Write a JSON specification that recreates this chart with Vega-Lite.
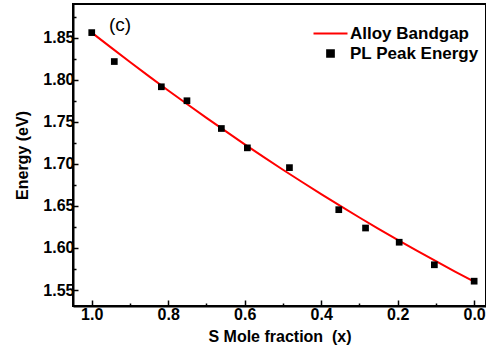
{
  "$schema": "https://vega.github.io/schema/vega-lite/v6.json",
  "width": 413,
  "height": 302,
  "autosize": {"type": "none"},
  "padding": {"left": 73, "top": 4, "right": 0, "bottom": 46},
  "background": "white",
  "config": {
    "font": "Liberation Sans",
    "view": {"stroke": "black", "strokeWidth": 2},
    "axis": {
      "grid": false,
      "domainColor": "black",
      "domainWidth": 2,
      "tickColor": "black",
      "tickWidth": 1.5,
      "labelFont": "Liberation Sans",
      "labelFontSize": 16,
      "labelFontWeight": "bold",
      "labelColor": "black",
      "titleFont": "Liberation Sans",
      "titleFontSize": 16,
      "titleFontWeight": "bold",
      "titleColor": "black"
    }
  },
  "datasets": {
    "band": [
      {"x": 0.0, "E": 1.5600, "series": "Alloy Bandgap"},
      {"x": 0.05, "E": 1.5720, "series": "Alloy Bandgap"},
      {"x": 0.1, "E": 1.5842, "series": "Alloy Bandgap"},
      {"x": 0.15, "E": 1.5968, "series": "Alloy Bandgap"},
      {"x": 0.2, "E": 1.6096, "series": "Alloy Bandgap"},
      {"x": 0.25, "E": 1.6228, "series": "Alloy Bandgap"},
      {"x": 0.3, "E": 1.6362, "series": "Alloy Bandgap"},
      {"x": 0.35, "E": 1.6500, "series": "Alloy Bandgap"},
      {"x": 0.4, "E": 1.6640, "series": "Alloy Bandgap"},
      {"x": 0.45, "E": 1.6784, "series": "Alloy Bandgap"},
      {"x": 0.5, "E": 1.6930, "series": "Alloy Bandgap"},
      {"x": 0.55, "E": 1.7080, "series": "Alloy Bandgap"},
      {"x": 0.6, "E": 1.7232, "series": "Alloy Bandgap"},
      {"x": 0.65, "E": 1.7388, "series": "Alloy Bandgap"},
      {"x": 0.7, "E": 1.7546, "series": "Alloy Bandgap"},
      {"x": 0.75, "E": 1.7708, "series": "Alloy Bandgap"},
      {"x": 0.8, "E": 1.7872, "series": "Alloy Bandgap"},
      {"x": 0.85, "E": 1.8040, "series": "Alloy Bandgap"},
      {"x": 0.9, "E": 1.8210, "series": "Alloy Bandgap"},
      {"x": 0.95, "E": 1.8384, "series": "Alloy Bandgap"},
      {"x": 1.0, "E": 1.8560, "series": "Alloy Bandgap"}
    ],
    "pl": [
      {"x": 1.0, "E": 1.856, "series": "PL Peak Energy"},
      {"x": 0.941, "E": 1.8216, "series": "PL Peak Energy"},
      {"x": 0.818, "E": 1.7916, "series": "PL Peak Energy"},
      {"x": 0.751, "E": 1.775, "series": "PL Peak Energy"},
      {"x": 0.661, "E": 1.742, "series": "PL Peak Energy"},
      {"x": 0.593, "E": 1.719, "series": "PL Peak Energy"},
      {"x": 0.483, "E": 1.6955, "series": "PL Peak Energy"},
      {"x": 0.354, "E": 1.6455, "series": "PL Peak Energy"},
      {"x": 0.284, "E": 1.6237, "series": "PL Peak Energy"},
      {"x": 0.196, "E": 1.6068, "series": "PL Peak Energy"},
      {"x": 0.104, "E": 1.580, "series": "PL Peak Energy"},
      {"x": 0.0, "E": 1.5605, "series": "PL Peak Energy"}
    ],
    "lab": [
      {"x": 0.926, "E": 1.865, "t": "(c)"}
    ]
  },
  "layer": [
    {
      "data": {"name": "band"},
      "mark": {"type": "line", "strokeWidth": 2},
      "encoding": {
        "x": {
          "field": "x", "type": "quantitative",
          "scale": {"domain": [1.049, -0.031], "nice": false, "zero": false},
          "axis": {"values": [0, 0.2, 0.4, 0.6, 0.8, 1.0], "format": ".1f", "tickSize": -6, "labelPadding": 6, "title": "S Mole fraction \u00a0(x)", "titlePadding": 6, "orient": "bottom"}
        },
        "y": {
          "field": "E", "type": "quantitative",
          "scale": {"domain": [1.531, 1.89], "nice": false, "zero": false},
          "axis": {"values": [1.55, 1.6, 1.65, 1.7, 1.75, 1.8, 1.85], "format": ".2f", "tickSize": -5, "labelPadding": 4, "title": "Energy (eV)", "titlePadding": 12, "orient": "left"}
        },
        "color": {
          "field": "series", "type": "nominal",
          "scale": {"domain": ["Alloy Bandgap", "PL Peak Energy"], "range": ["#ff0000", "#000000"]},
          "legend": {
            "orient": "none", "legendX": 249, "legendY": 21, "title": null,
            "padding": 0, "symbolSize": 1156, "symbolStrokeWidth": 2,
            "labelFont": "Liberation Sans", "labelFontSize": 17, "labelFontWeight": "bold", "labelColor": "black",
            "labelOffset": 11, "rowPadding": 2,
            "encode": {
              "symbols": {
                "update": {
                  "shape": {"signal": "datum.value === 'Alloy Bandgap' ? 'stroke' : 'square'"},
                  "size": {"signal": "datum.value === 'Alloy Bandgap' ? 1156 : 45"},
                  "fill": {"signal": "datum.value === 'Alloy Bandgap' ? 'transparent' : 'black'"},
                  "stroke": {"signal": "datum.value === 'Alloy Bandgap' ? '#ff0000' : 'transparent'"},
                  "strokeWidth": {"value": 2}
                }
              }
            }
          }
        }
      }
    },
    {
      "data": {"name": "pl"},
      "mark": {"type": "square", "size": 45, "filled": true, "opacity": 1},
      "encoding": {
        "x": {"field": "x", "type": "quantitative", "scale": {"domain": [1.049, -0.031], "nice": false, "zero": false}, "axis": null},
        "y": {"field": "E", "type": "quantitative", "scale": {"domain": [1.531, 1.89], "nice": false, "zero": false}, "axis": null},
        "color": {"field": "series", "type": "nominal", "scale": {"domain": ["Alloy Bandgap", "PL Peak Energy"], "range": ["#ff0000", "#000000"]}, "legend": {
            "orient": "none", "legendX": 249, "legendY": 21, "title": null,
            "padding": 0, "symbolSize": 1156, "symbolStrokeWidth": 2,
            "labelFont": "Liberation Sans", "labelFontSize": 17, "labelFontWeight": "bold", "labelColor": "black",
            "labelOffset": 11, "rowPadding": 2,
            "encode": {
              "symbols": {
                "update": {
                  "shape": {"signal": "datum.value === 'Alloy Bandgap' ? 'stroke' : 'square'"},
                  "size": {"signal": "datum.value === 'Alloy Bandgap' ? 1156 : 45"},
                  "fill": {"signal": "datum.value === 'Alloy Bandgap' ? 'transparent' : 'black'"},
                  "stroke": {"signal": "datum.value === 'Alloy Bandgap' ? '#ff0000' : 'transparent'"},
                  "strokeWidth": {"value": 2}
                }
              }
            }
          }}
      }
    },
    {
      "data": {"name": "lab"},
      "mark": {"type": "text", "fontSize": 19, "font": "Liberation Sans", "color": "black", "align": "center", "baseline": "middle"},
      "encoding": {
        "x": {"field": "x", "type": "quantitative", "scale": {"domain": [1.049, -0.031], "nice": false, "zero": false}, "axis": null},
        "y": {"field": "E", "type": "quantitative", "scale": {"domain": [1.531, 1.89], "nice": false, "zero": false}, "axis": null},
        "text": {"field": "t"}
      }
    },
    {
      "data": {"name": "pl"},
      "mark": {"type": "point", "opacity": 0},
      "encoding": {
        "x": {"field": "x", "type": "quantitative", "scale": {"domain": [1.049, -0.031], "nice": false, "zero": false},
          "axis": {"values": [0.1, 0.3, 0.5, 0.7, 0.9], "labels": false, "domain": false, "tickSize": -3, "title": null, "orient": "bottom"}},
        "y": {"field": "E", "type": "quantitative", "scale": {"domain": [1.531, 1.89], "nice": false, "zero": false},
          "axis": {"values": [1.575, 1.625, 1.675, 1.725, 1.775, 1.825, 1.875], "labels": false, "domain": false, "tickSize": -3, "title": null, "orient": "left"}}
      }
    }
  ],
  "resolve": {"axis": {"x": "independent", "y": "independent"}}
}
